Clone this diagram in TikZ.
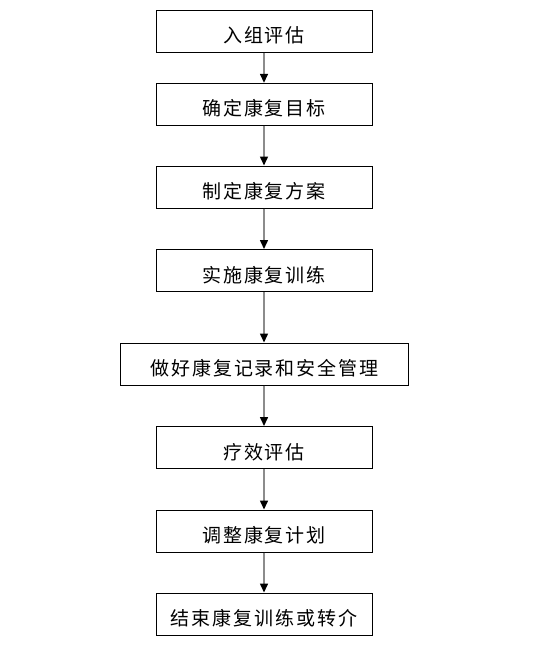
\documentclass[tikz,border=0pt]{standalone}
\usepackage{fontspec}
\setmainfont{Noto Sans CJK SC}
\usetikzlibrary{arrows.meta}
\begin{document}
\begin{tikzpicture}[x=1pt,y=-1pt,
  stepbox/.style={draw=black,line width=1pt,minimum height=42pt,inner sep=0pt,text height=25pt,text depth=1.6pt,font=\fontsize{19pt}{22pt}\selectfont\addfontfeature{LetterSpace=10}},
  narrow/.style={minimum width=216pt},
  wide/.style={minimum width=288pt},
  conn/.style={draw=gray!90,line width=1.5pt,-{Triangle[width=8pt,length=9pt,black]}}]
\useasboundingbox (0,0) rectangle (552,666);
\node[stepbox,narrow] (a) at (264,31.3) {入组评估};
\node[stepbox,narrow] (b) at (264,104.3) {确定康复目标};
\node[stepbox,narrow] (c) at (264,187) {制定康复方案};
\node[stepbox,narrow] (d) at (264,270.5) {实施康复训练};
\node[stepbox,wide] (e) at (264.5,364) {做好康复记录和安全管理};
\node[stepbox,narrow] (f) at (264,447.5) {疗效评估};
\node[stepbox,narrow] (g) at (264,531) {调整康复计划};
\node[stepbox,narrow] (h) at (264,614) {结束康复训练或转介};
\draw[conn] (a) -- (b);
\draw[conn] (b) -- (c);
\draw[conn] (c) -- (d);
\draw[conn] (d) -- (d |- e.north);
\draw[conn] (e.south -| f) -- (f);
\draw[conn] (f) -- (g);
\draw[conn] (g) -- (h);
\end{tikzpicture}
\end{document}
